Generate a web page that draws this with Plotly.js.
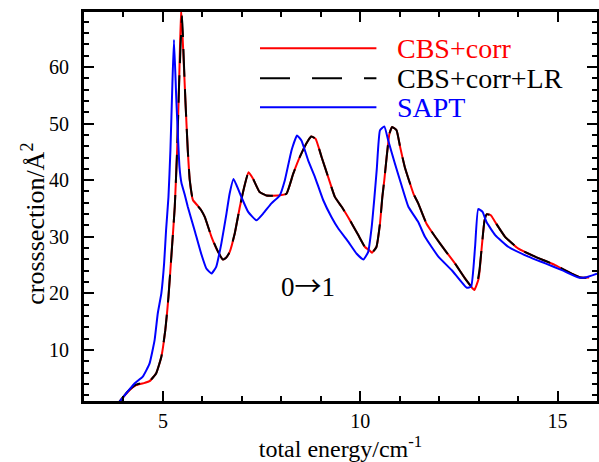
<!DOCTYPE html>
<html>
<head>
<meta charset="utf-8">
<script src="https://cdn.plot.ly/plotly-3.0.1.min.js"></script>
<style>html,body{margin:0;padding:0;background:#fff;}</style>
</head>
<body>
<div id="chart" style="width:599px;height:462px;"></div>
<script>
// CBS+corr (red)
var cbsX = [3.90,4.11,4.32,4.54,4.66,4.83,4.96,5.06,5.14,5.23,5.30,5.36,5.41,5.46,5.52,5.57,5.63,5.68,5.76,5.88,5.97,6.06,6.23,6.40,6.52,6.60,6.69,6.82,6.95,7.05,7.17,7.28,7.45,7.62,7.92,8.13,8.30,8.47,8.68,8.76,8.87,9.02,9.19,9.36,9.53,9.74,9.95,10.12,10.25,10.30,10.41,10.50,10.56,10.61,10.67,10.74,10.81,10.92,11.01,11.13,11.35,11.47,11.68,11.90,12.15,12.40,12.66,12.80,12.89,13.00,13.08,13.15,13.21,13.31,13.42,13.67,14.01,14.43,14.94,15.36,15.58,15.80];
var cbsY = [0.9,2.6,3.8,4.2,4.5,5.9,8.8,13.5,19.4,28.2,35.3,45.3,57.0,70.5,62.0,54.0,45.3,40.0,36.5,35.5,34.7,33.5,30.0,27.3,26.0,26.3,27.3,30.6,35.3,38.5,41.4,40.3,37.9,37.3,37.3,37.6,41.1,44.1,47.0,47.7,47.3,44.1,40.5,37.0,35.3,32.9,30.3,28.2,27.5,27.2,28.2,32.3,37.0,40.0,44.1,48.2,49.4,48.8,45.9,42.3,37.6,35.9,32.3,30.0,27.6,25.3,22.6,21.3,20.6,22.6,28.2,32.9,34.0,33.8,32.6,30.0,27.9,26.5,25.0,23.5,22.8,22.8];
// CBS+corr+LR (black dashed)
var lrX = [3.90,4.11,4.32,4.54,4.66,4.83,4.96,5.06,5.14,5.23,5.30,5.36,5.41,5.485,5.53,5.57,5.63,5.68,5.76,5.88,5.97,6.06,6.23,6.40,6.52,6.60,6.69,6.82,6.95,7.05,7.17,7.28,7.45,7.62,7.92,8.13,8.30,8.47,8.68,8.76,8.87,9.02,9.19,9.36,9.53,9.74,9.95,10.12,10.25,10.30,10.41,10.50,10.56,10.61,10.67,10.74,10.81,10.92,11.01,11.13,11.35,11.47,11.68,11.90,12.15,12.40,12.66,12.84,12.95,13.02,13.08,13.15,13.21,13.31,13.42,13.67,14.01,14.43,14.94,15.36,15.58,15.80];
var lrY = [0.9,2.7,3.9,4.3,4.5,5.9,8.8,13.5,19.4,28.2,35.3,45.3,57.0,69.0,61.0,54.0,45.3,40.0,36.5,35.5,34.7,33.5,30.0,27.3,26.0,26.3,27.3,30.6,35.3,38.5,41.4,40.3,37.9,37.3,37.3,37.6,41.1,44.1,47.0,47.7,47.3,44.1,40.5,37.0,35.3,32.9,30.3,28.2,27.5,27.2,28.2,32.3,37.0,40.0,44.1,48.2,49.4,48.8,45.9,42.3,37.6,35.9,32.3,30.0,27.6,25.3,22.6,21.1,21.6,24.0,28.2,32.9,34.0,33.8,32.6,30.0,27.9,26.5,25.0,23.5,22.8,22.8];
// SAPT (blue)
var saptX = [3.90,4.28,4.49,4.66,4.79,4.87,4.96,5.03,5.08,5.14,5.19,5.24,5.28,5.34,5.42,5.47,5.55,5.63,5.80,5.97,6.10,6.23,6.35,6.48,6.61,6.69,6.79,6.99,7.16,7.37,7.54,7.75,7.96,8.09,8.26,8.40,8.51,8.68,8.85,9.06,9.27,9.44,9.70,9.91,10.08,10.20,10.29,10.36,10.42,10.50,10.61,10.71,10.88,11.05,11.22,11.47,11.64,11.98,12.32,12.70,12.81,12.91,12.99,13.10,13.20,13.42,13.76,14.26,14.69,15.11,15.53,15.70,16.00];
var saptY = [0.9,4.1,5.3,7.6,11.8,16.5,20.0,25.3,31.2,37.0,45.3,57.0,64.8,54.1,42.3,39.5,37.5,35.3,31.2,27.0,24.4,23.5,24.7,28.8,34.1,37.6,40.2,37.0,34.4,32.9,34.1,35.9,37.3,40.0,45.3,47.9,47.0,43.5,40.6,36.5,33.5,31.5,29.1,27.0,26.0,27.3,31.7,37.0,42.0,48.8,49.5,47.0,42.9,39.0,35.3,32.6,30.0,26.5,24.1,21.0,21.2,28.2,34.9,34.4,32.6,30.3,28.2,26.5,25.3,24.1,22.8,22.8,23.5];

var seriesNames = ["CBS+corr", "CBS+corr+LR", "SAPT"];
var seriesColors = ["#ff0000", "#000000", "#0000ff"];

var FONT = "Liberation Serif, Times New Roman, serif";

var traces = [
  {x: cbsX, y: cbsY, name: seriesNames[0], mode: "lines", type: "scatter",
   line: {color: seriesColors[0], width: 2, shape: "spline", smoothing: 0.4}, showlegend: false},
  {x: lrX, y: lrY, name: seriesNames[1], mode: "lines", type: "scatter",
   line: {color: seriesColors[1], width: 2, dash: "28px,12px", shape: "spline", smoothing: 0.4}, showlegend: false},
  {x: saptX, y: saptY, name: seriesNames[2], mode: "lines", type: "scatter",
   line: {color: seriesColors[2], width: 2, shape: "spline", smoothing: 0.4}, showlegend: false}
];

var legendY = [63.3, 58.0, 52.9];
var legendDash = ["solid", "30px,22px", "solid"];
var shapes = [], annotations = [];
for (var i = 0; i < 3; i++) {
  shapes.push({type: "line", xref: "x", yref: "y", x0: 7.46, x1: 10.41, y0: legendY[i], y1: legendY[i],
    line: {color: seriesColors[i], width: 2, dash: legendDash[i]}});
  annotations.push({xref: "x", yref: "y", x: 10.89, y: legendY[i], xanchor: "left", yanchor: "middle",
    text: seriesNames[i], showarrow: false, font: {family: FONT, size: 28, color: seriesColors[i]}});
}
annotations.push({xref: "x", yref: "y", x: 8.68, y: 21.5, xanchor: "center", yanchor: "middle",
  text: "0<span style=\"font-family:'Noto Sans CJK JP'\">\u2192</span>1", showarrow: false,
  font: {family: FONT, size: 27, color: "#000"}});
// y-axis title (placed to match reference position)
annotations.push({xref: "paper", yref: "paper", x: -0.1, y: 0.455, xanchor: "center", yanchor: "middle",
  textangle: -90, text: "crosssection/\u00c5<sup>2</sup>", showarrow: false,
  font: {family: FONT, size: 26, color: "#000"}});

var axisCommon = {
  showgrid: false, zeroline: false, showline: true, linecolor: "#000", linewidth: 3,
  mirror: "allticks", ticks: "inside", ticklen: 10, tickwidth: 2, tickcolor: "#000",
  tickfont: {family: FONT, size: 20, color: "#000"}
};

var layout = {
  width: 599, height: 462,
  margin: {l: 84, r: 2, t: 12, b: 61},
  paper_bgcolor: "#fff", plot_bgcolor: "#fff",
  font: {family: FONT, color: "#000"},
  xaxis: Object.assign({}, axisCommon, {
    range: [3, 16], tick0: 0, dtick: 5,
    minor: {dtick: 1, ticks: "inside", ticklen: 5, tickwidth: 2, tickcolor: "#000", showgrid: false},
    title: {text: "total energy/cm<sup>-1</sup>", font: {family: FONT, size: 24, color: "#000"}, standoff: 13}
  }),
  yaxis: Object.assign({}, axisCommon, {
    range: [1, 69.7], tick0: 0, dtick: 10, ticklabelstandoff: 8,
    minor: {dtick: 2, ticks: "inside", ticklen: 5, tickwidth: 2, tickcolor: "#000", showgrid: false}
  }),
  shapes: shapes,
  annotations: annotations,
  showlegend: false
};

Plotly.newPlot("chart", traces, layout, {displayModeBar: false, staticPlot: true});
</script>
</body>
</html>
